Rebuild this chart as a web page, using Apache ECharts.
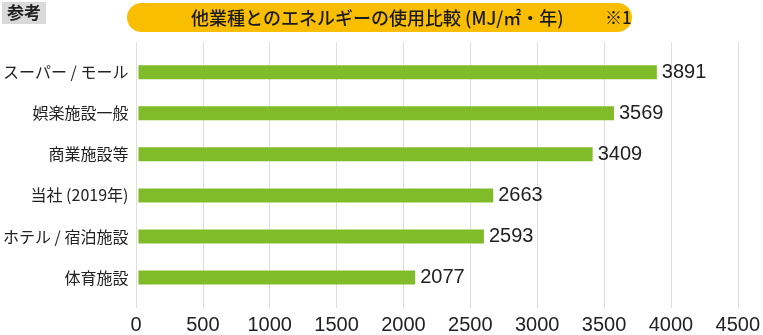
<!DOCTYPE html>
<html>
<head>
<meta charset="utf-8">
<script src="https://cdn.jsdelivr.net/npm/echarts@6/dist/echarts.min.js"></script>
<style>
html,body{margin:0;padding:0;background:#fff;}
#c{width:763px;height:335px;}
</style>
</head>
<body>
<div id="c"></div>
<script>
const categories = ['スーパー / モール', '娯楽施設一般', '商業施設等', '当社 (2019年)', 'ホテル / 宿泊施設', '体育施設'];
const values = [3891, 3569, 3409, 2663, 2593, 2077];
const xTicks = [0, 500, 1000, 1500, 2000, 2500, 3000, 3500, 4000, 4500];
const titleText = '他業種とのエネルギーの使用比較 (MJ/㎡・年)';
const noteText = '※1';
const badgeText = '参考';

const JP = '"Noto Sans CJK JP", "Noto Sans", sans-serif';
const NUM = '"Liberation Sans", Arial, sans-serif';

const chart = echarts.init(document.getElementById('c'), null, {renderer: 'canvas'});
chart.setOption({
  animation: false,
  backgroundColor: '#ffffff',
  grid: [
    {left: 136, right: 25, top: 42, bottom: 27},
    {left: 136, right: 25, top: 51.7, bottom: 37}
  ],
  xAxis: [
    {
      gridIndex: 0, type: 'value', min: xTicks[0], max: xTicks[xTicks.length - 1], interval: 500,
      axisLine: {show: false}, axisTick: {show: false},
      splitLine: {show: true, lineStyle: {color: '#dedede', width: 1}},
      axisLabel: {fontFamily: NUM, fontSize: 20, color: '#222', margin: 7,
        formatter: function (v) { return String(v); }}
    },
    {
      gridIndex: 1, type: 'value', min: xTicks[0], max: xTicks[xTicks.length - 1],
      show: false
    }
  ],
  yAxis: [
    {gridIndex: 0, type: 'category', data: categories, show: false},
    {
      gridIndex: 1, type: 'category', data: categories, inverse: true,
      axisLine: {show: false}, axisTick: {show: false},
      axisLabel: {fontFamily: JP, fontSize: 16, color: '#222', margin: 10}
    }
  ],
  series: [{
    type: 'bar', xAxisIndex: 1, yAxisIndex: 1, data: values, barWidth: 14,
    itemStyle: {color: '#80BC2A'},
    label: {show: true, position: 'right', distance: 5, fontFamily: NUM, fontSize: 20, color: '#222'}
  }],
  graphic: [
    {type: 'rect', shape: {x: 2, y: 2, width: 44, height: 22}, style: {fill: '#d9d9d9'}},
    {type: 'text', x: 24, y: 13, style: {text: badgeText, font: 'bold 17px ' + JP, fill: '#222', align: 'center', verticalAlign: 'middle'}},
    {type: 'rect', shape: {x: 127, y: 3, width: 505, height: 29, r: 14.5}, style: {fill: '#F9BE00'}},
    {type: 'text', x: 191, y: 18, style: {text: titleText, font: '500 18px ' + JP, fill: '#1a1a1a', align: 'left', verticalAlign: 'middle'}},
    {type: 'text', x: 605, y: 18, style: {text: noteText, font: '500 17px ' + JP, fill: '#1a1a1a', align: 'left', verticalAlign: 'middle'}}
  ]
});
</script>
</body>
</html>
